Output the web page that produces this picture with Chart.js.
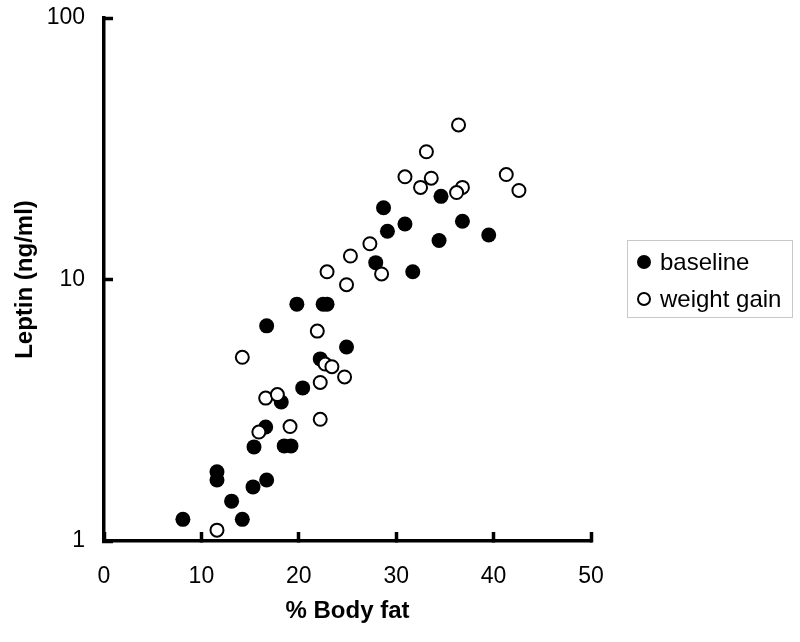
<!DOCTYPE html>
<html><head><meta charset="utf-8">
<script src="https://cdn.jsdelivr.net/npm/chart.js@4/dist/chart.umd.min.js"></script>
<style>html,body{margin:0;padding:0;background:#fff}</style>
</head><body>
<canvas id="c" width="800" height="642"></canvas>
<script>
const seriesNames = ['baseline', 'weight gain'];
const baselineFat = [8.1, 11.6, 11.6, 13.1, 14.2, 15.3, 16.7, 15.4, 16.6, 18.5, 19.2, 18.2, 20.4, 16.7, 19.8, 22.5, 22.9, 22.2, 24.9, 27.9, 28.7, 29.1, 30.9, 31.7, 34.6, 34.4, 36.8, 39.5];
const baselineLeptin = [1.21, 1.84, 1.71, 1.42, 1.21, 1.61, 1.71, 2.29, 2.73, 2.31, 2.31, 3.40, 3.85, 6.65, 8.05, 8.05, 8.05, 4.97, 5.52, 11.6, 18.8, 15.3, 16.3, 10.7, 20.8, 14.1, 16.7, 14.8];
const gainFat = [11.6, 14.2, 21.9, 16.6, 17.8, 15.9, 19.1, 22.2, 22.7, 23.4, 24.7, 22.2, 33.1, 30.9, 33.6, 32.5, 27.3, 25.3, 22.9, 24.9, 28.5, 36.4, 36.8, 36.2, 41.3, 42.6];
const gainLeptin = [1.10, 5.04, 6.35, 3.52, 3.63, 2.61, 2.74, 4.04, 4.75, 4.64, 4.24, 2.92, 30.8, 24.7, 24.4, 22.5, 13.7, 12.3, 10.7, 9.55, 10.5, 39.0, 22.5, 21.5, 25.2, 21.9];
const xTickValues = [0, 10, 20, 30, 40, 50];
const yTickValues = [1, 10, 100];
const xTitle = '% Body fat';
const yTitle = 'Leptin (ng/ml)';

const FONT = "'Liberation Sans', Arial, Helvetica, sans-serif";

function toPoints(xs, ys) { return xs.map((x, i) => ({x: x, y: ys[i]})); }

const legendPlugin = {
  id: 'boxLegend',
  afterDraw(chart) {
    const ctx = chart.ctx;
    ctx.save();
    ctx.strokeStyle = '#c8c8c8';
    ctx.lineWidth = 1;
    ctx.strokeRect(627.5, 240.5, 165, 77);
    ctx.font = '24px ' + FONT;
    ctx.textBaseline = 'middle';
    ctx.textAlign = 'left';
    const rows = [262, 299];
    chart.data.datasets.forEach((ds, i) => {
      const y = rows[i];
      ctx.beginPath();
      ctx.arc(644, y, i === 0 ? 7 : 6, 0, Math.PI * 2);
      ctx.fillStyle = ds.backgroundColor;
      ctx.fill();
      if (ds.borderWidth) {
        ctx.lineWidth = ds.borderWidth;
        ctx.strokeStyle = ds.borderColor;
        ctx.stroke();
      }
      ctx.fillStyle = '#000';
      ctx.fillText(ds.label, 660, y + 1);
    });
    ctx.restore();
  }
};

new Chart(document.getElementById('c'), {
  type: 'scatter',
  data: {
    datasets: [
      {
        label: seriesNames[0],
        data: toPoints(baselineFat, baselineLeptin),
        backgroundColor: '#000',
        borderColor: '#000',
        borderWidth: 0,
        pointRadius: 7.5,
        pointHoverRadius: 7.5,
        order: 2
      },
      {
        label: seriesNames[1],
        data: toPoints(gainFat, gainLeptin),
        backgroundColor: '#fff',
        borderColor: '#000',
        borderWidth: 2,
        pointRadius: 6.5,
        pointHoverRadius: 6.5,
        order: 1
      }
    ]
  },
  options: {
    responsive: false,
    animation: false,
    events: [],
    layout: {padding: {left: 0, top: 18, right: 209, bottom: 0}},
    plugins: {legend: {display: false}, tooltip: {enabled: false}},
    scales: {
      x: {
        type: 'linear',
        min: 0, max: 50,
        afterBuildTicks: (s) => { s.ticks = xTickValues.map(v => ({value: v})); },
        afterFit: (s) => { s.height = 101; s.paddingLeft = 0; s.paddingRight = 0; },
        border: {display: true, color: '#000', width: 3.5},
        grid: {display: true, drawOnChartArea: false, drawTicks: true, tickLength: -9, tickWidth: 3.5, tickColor: '#000'},
        ticks: {color: '#000', font: {family: FONT, size: 23}, padding: 31, maxRotation: 0},
        title: {display: true, text: xTitle, color: '#000', font: {family: FONT, size: 24, weight: 'bold'}, padding: {top: 16, bottom: 16}}
      },
      y: {
        type: 'logarithmic',
        min: 1, max: 100,
        afterBuildTicks: (s) => { s.ticks = yTickValues.map(v => ({value: v})); },
        afterFit: (s) => { s.width = 104; s.paddingTop = 0; s.paddingBottom = 0; },
        border: {display: true, color: '#000', width: 3.5},
        grid: {display: true, drawOnChartArea: false, drawTicks: true, tickLength: -9, tickWidth: 3.5, tickColor: '#000'},
        ticks: {color: '#000', font: {family: FONT, size: 23}, padding: 28, callback: (v) => String(v)},
        title: {display: true, text: yTitle, color: '#000', font: {family: FONT, size: 24, weight: 'bold'}, padding: {top: 11, bottom: 11}}
      }
    }
  },
  plugins: [legendPlugin]
});
</script>
</body></html>
